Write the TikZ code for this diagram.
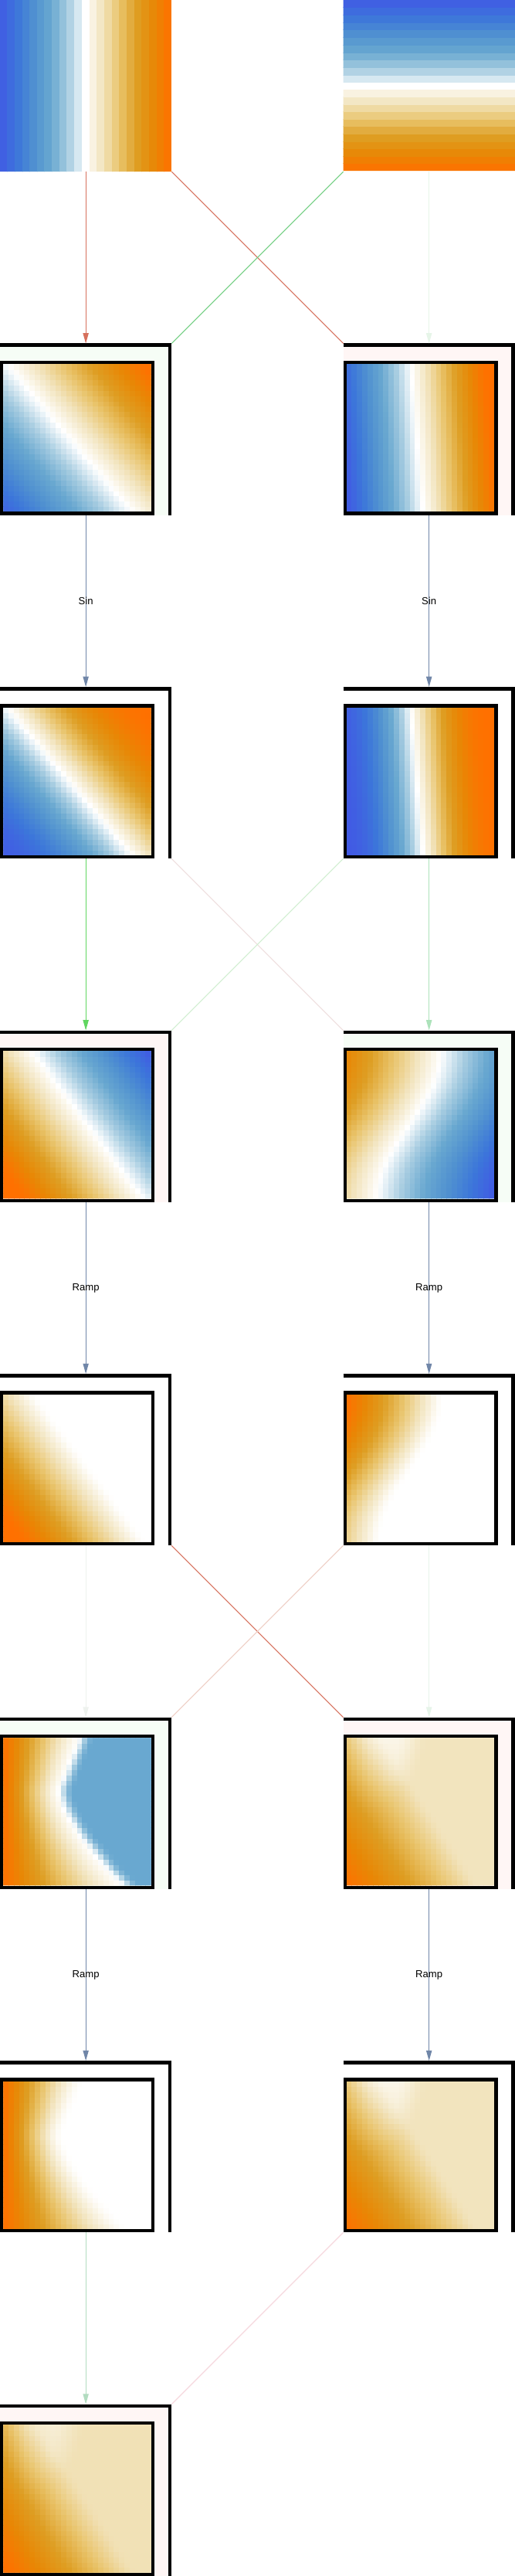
\documentclass[tikz,border=0pt]{standalone}
\usepackage{fontspec}
\setmainfont{Liberation Sans}
\usepackage{pgfplots}
\pgfplotsset{compat=1.18}
\usetikzlibrary{arrows.meta}

\definecolor{cRed}{RGB}{214,112,92}
\definecolor{cGreen}{RGB}{112,206,128}
\definecolor{cSlate}{RGB}{112,134,168}
\definecolor{cGreenA}{RGB}{96,214,96}
\definecolor{cGreenB}{RGB}{172,226,186}
\definecolor{cPinkC}{RGB}{238,222,222}
\definecolor{cGreenC}{RGB}{208,238,208}
\definecolor{cFaintA}{RGB}{238,242,238}
\definecolor{cFaintB}{RGB}{230,244,233}
\definecolor{cTanD}{RGB}{238,206,196}
\definecolor{cGreenE}{RGB}{178,220,192}
\definecolor{cPinkE}{RGB}{246,216,222}
\definecolor{cFaintTop}{RGB}{230,245,232}
\definecolor{tintG}{RGB}{246,253,246}
\definecolor{tintR}{RGB}{255,246,245}

\pgfplotsset{
  colormap={nn}{
    rgb255(0cm)=(65,90,228); rgb255(1cm)=(60,118,218); rgb255(2cm)=(80,145,208);
    rgb255(3cm)=(105,168,208); rgb255(4cm)=(168,205,225); rgb255(5cm)=(255,255,255);
    rgb255(6cm)=(242,228,190); rgb255(7cm)=(233,196,108); rgb255(8cm)=(222,158,35);
    rgb255(9cm)=(232,135,5); rgb255(10cm)=(255,112,0)
  },
  hm/.style={hide axis, scale only axis, width=3.44cm, height=3.44cm,
    xmin=-1, xmax=1, ymin=-1, ymax=1, view={0}{90}, colormap name=nn,
    point meta min=-1, point meta max=1, anchor=south west},
  hmplot/.style={surf, shader=flat mean, domain=-1:1, y domain=-1:1, samples=29},
}

\newcommand{\NNbox}[5]{%
  \node[frame, fill=#5] (#1) at ({#2+2},{#3-2}) {};
  \begin{axis}[hm, at={(#2cm+0.08cm,#3cm-3.92cm)}]
    \addplot3[hmplot] {#4};
  \end{axis}
  \draw[innerbox] ({#2+0.039},{#3-3.961}) rectangle ({#2+3.561},{#3-0.439});
  \draw[bracketline] ([yshift=-0.04cm]#1.north west) -| ([xshift=-0.04cm]#1.south east);
}

\begin{document}
\begin{tikzpicture}[
  frame/.style={minimum width=4cm, minimum height=4cm, inner sep=0pt, outer sep=0pt, draw=none},
  innerbox/.style={draw=black, line width=2.2pt},
  bracketline/.style={draw=black, line width=2.3pt},
  conn/.style={line width=0.55pt},
  arr/.style={conn, -{Triangle[length=0.24cm, width=0.13cm]}},
  lbl/.style={font=\fontsize{6.7}{8}\selectfont, inner sep=0pt, text=black},
  declare function={
    sat(\v)=max(-1,min(1,\v));
    ub(\y)=-0.15+0.43*sin(90*\y);
    ubf(\y)=-0.23+0.41*max(0,\y-0.3)+0.75*(max(0,0.3-\y)/1.15)*sqrt(max(0,0.3-\y)/1.15);
    fAa(\x,\y)=sat((\x+0.85*\y+0.1)/1.85);
    fBa(\x,\y)=sat(\x+0.085*\y+0.045);
    fAb(\x,\y)=sat(sin(85*fAa(\x,\y))/0.996);
    fBb(\x,\y)=sat(sin(85*fBa(\x,\y))/0.996);
    fAc(\x,\y)=sat(-(\x+0.75*\y-0.15)/1.6);
    fBc(\x,\y)=sat(-0.63*(\x-ub(\y)));
    fAd(\x,\y)=max(0,fAc(\x,\y));
    fBd(\x,\y)=min(1,max(0,fBc(\x,\y))/0.8);
    fRr(\x,\y)=max(0,min(1,(ubf(\y)-\x)/(ubf(\y)+1)));
    fAe(\x,\y)=fRr(\x,\y)*sqrt(sqrt(fRr(\x,\y)))-0.4*min(1,max(0,(\x-ubf(\y))/0.12));
    fAf(\x,\y)=max(0,fAe(\x,\y));
    fLe(\x,\y)=max(0,-(\x+0.65*\y-0.1))/1.75;
    fBe(\x,\y)=min(1,0.2+0.8*fLe(\x,\y)-0.13*min(1,max(0,ub(\y)-0.25-\x)/0.3)*max(0,\y)*max(0,min(1,(\x+1.1)/0.4)));
    fAg(\x,\y)=min(1,0.9*fBe(\x,\y)+0.1*fAf(\x,\y)+0.04);
  }
]
\useasboundingbox (0,0) rectangle (12,60);
\fill[white] (0,0) rectangle (12,60);

% inputs
\node[frame] (in1) at (2,58) {};
\node[frame] (in2) at (10,58) {};
\begin{axis}[hm, at={(0cm,56cm)}, width=1.907cm, height=4cm, xmin=-1, xmax=-0.05]
  \addplot3[surf, shader=flat mean, domain=-1:-0.05, y domain=-1:1, samples=12, samples y=2] {x};
\end{axis}
\begin{axis}[hm, at={(2.087cm,56cm)}, width=1.913cm, height=4cm, xmin=0.05, xmax=1]
  \addplot3[surf, shader=flat mean, domain=0.05:1, y domain=-1:1, samples=12, samples y=2] {x};
\end{axis}
\begin{axis}[hm, at={(8cm,58.075cm)}, width=4cm, height=1.925cm, ymin=0.05, ymax=1]
  \addplot3[surf, shader=flat mean, domain=-1:1, y domain=0.05:1, samples=2, samples y=12] {-y};
\end{axis}
\begin{axis}[hm, at={(8cm,56.02cm)}, width=4cm, height=1.89cm, ymin=-1, ymax=-0.05]
  \addplot3[surf, shader=flat mean, domain=-1:1, y domain=-1:-0.05, samples=2, samples y=12] {-y};
\end{axis}

% layer boxes
\NNbox{a1}{0}{52}{fAa(x,y)}{tintG}
\NNbox{b1}{8}{52}{fBa(x,y)}{tintR}
\NNbox{a2}{0}{44}{fAb(x,y)}{white}
\NNbox{b2}{8}{44}{fBb(x,y)}{white}
\NNbox{a3}{0}{36}{fAc(x,y)}{tintR}
\NNbox{b3}{8}{36}{fBc(x,y)}{tintG}
\NNbox{a4}{0}{28}{fAd(x,y)}{white}
\NNbox{b4}{8}{28}{fBd(x,y)}{white}
\NNbox{a5}{0}{20}{fAe(x,y)}{tintG}
\NNbox{b5}{8}{20}{fBe(x,y)}{tintR}
\NNbox{a6}{0}{12}{fAf(x,y)}{white}
\NNbox{b6}{8}{12}{fBe(x,y)}{white}
\NNbox{a7}{0}{4}{fAg(x,y)}{tintR}

% connectors row 0 -> 1
\draw[arr, draw=cRed] (in1.south) -- (a1.north);
\draw[conn, draw=cRed] (in1.south east) -- (b1.north west);
\draw[conn, draw=cGreen] (in2.south west) -- (a1.north east);
\draw[arr, draw=cFaintTop] (in2.south) -- (b1.north);
% row 1 -> 2
\draw[arr, draw=cSlate] (a1.south) -- node[lbl]{Sin} (a2.north);
\draw[arr, draw=cSlate] (b1.south) -- node[lbl]{Sin} (b2.north);
% row 2 -> 3
\draw[arr, draw=cGreenA] (a2.south) -- (a3.north);
\draw[arr, draw=cGreenB] (b2.south) -- (b3.north);
\draw[conn, draw=cPinkC] (a2.south east) -- (b3.north west);
\draw[conn, draw=cGreenC] (b2.south west) -- (a3.north east);
% row 3 -> 4
\draw[arr, draw=cSlate] (a3.south) -- node[lbl]{Ramp} (a4.north);
\draw[arr, draw=cSlate] (b3.south) -- node[lbl]{Ramp} (b4.north);
% row 4 -> 5
\draw[arr, draw=cFaintA] (a4.south) -- (a5.north);
\draw[arr, draw=cFaintB] (b4.south) -- (b5.north);
\draw[conn, draw=cRed] (a4.south east) -- (b5.north west);
\draw[conn, draw=cTanD] (b4.south west) -- (a5.north east);
% row 5 -> 6
\draw[arr, draw=cSlate] (a5.south) -- node[lbl]{Ramp} (a6.north);
\draw[arr, draw=cSlate] (b5.south) -- node[lbl]{Ramp} (b6.north);
% row 6 -> 7
\draw[arr, draw=cGreenE] (a6.south) -- (a7.north);
\draw[conn, draw=cPinkE] (b6.south west) -- (a7.north east);
\end{tikzpicture}
\end{document}
